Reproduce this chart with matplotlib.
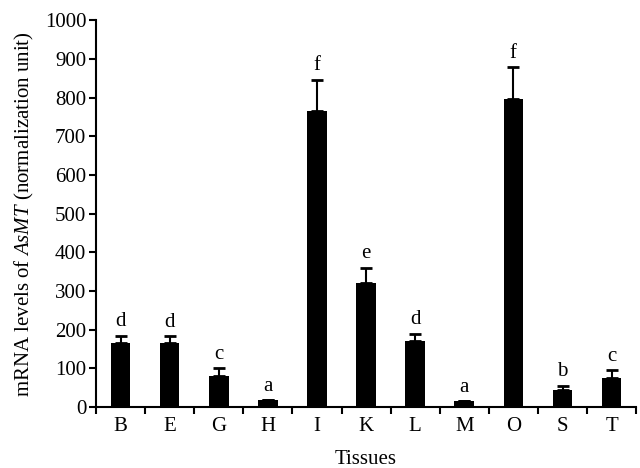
import numpy as np
import matplotlib.pyplot as plt

plt.rcParams.update(
    {
        "font.family": "serif",
        "font.serif": ["Liberation Serif"],
        "mathtext.fontset": "custom",
        "mathtext.rm": "Liberation Serif",
        "mathtext.it": "Liberation Serif:italic",
        "font.size": 14,
    }
)

# Datos
tejidos = ["B", "E", "G", "H", "I", "K", "L", "M", "O", "S", "T"]
niveles = [165, 165, 80, 18, 765, 322, 172, 15, 795, 45, 75]
errores = [20, 18, 20, 0, 80, 38, 18, 0, 83, 10, 20]
letras = ["d", "d", "c", "a", "f", "e", "d", "a", "f", "b", "c"]

fig = plt.figure(figsize=(6.4, 4.68), dpi=100)
ax = fig.add_axes([0.15, 0.13, 0.844, 0.827])

x = np.arange(len(tejidos))
ax.bar(x, niveles, width=0.4, color="black")
ax.errorbar(
    x,
    niveles,
    yerr=[np.zeros(len(errores)), errores],
    fmt="none",
    ecolor="black",
    elinewidth=1.5,
    capsize=4,
    capthick=2,
)

for xi, v, e, l in zip(x, niveles, errores, letras):
    ax.text(xi, v + e + 12, l, ha="center", va="bottom", fontsize=15)

ax.set_xlim(-0.5, len(tejidos) - 0.5)
ax.set_ylim(0, 1000)
ax.set_yticks(np.arange(0, 1001, 100))
ax.set_xticks(x)
ax.set_xticklabels(tejidos, fontsize=15)
ax.set_xticks(np.arange(-0.5, len(tejidos)), minor=True)
ax.tick_params(axis="x", which="major", length=0, pad=7)
ax.tick_params(axis="x", which="minor", length=5, width=1.5, direction="out")
ax.tick_params(axis="y", length=5, width=1.5, direction="out", labelsize=15, pad=2)

for s in ["top", "right"]:
    ax.spines[s].set_visible(False)
ax.spines["left"].set_linewidth(1.5)
ax.spines["bottom"].set_linewidth(1.5)

ax.set_xlabel("Tissues", fontsize=15, labelpad=10)
ax.set_ylabel(r"mRNA levels of $\it{AsMT}$ (normalization unit)", fontsize=15, labelpad=6)

fig.savefig("out.png", dpi=100)
